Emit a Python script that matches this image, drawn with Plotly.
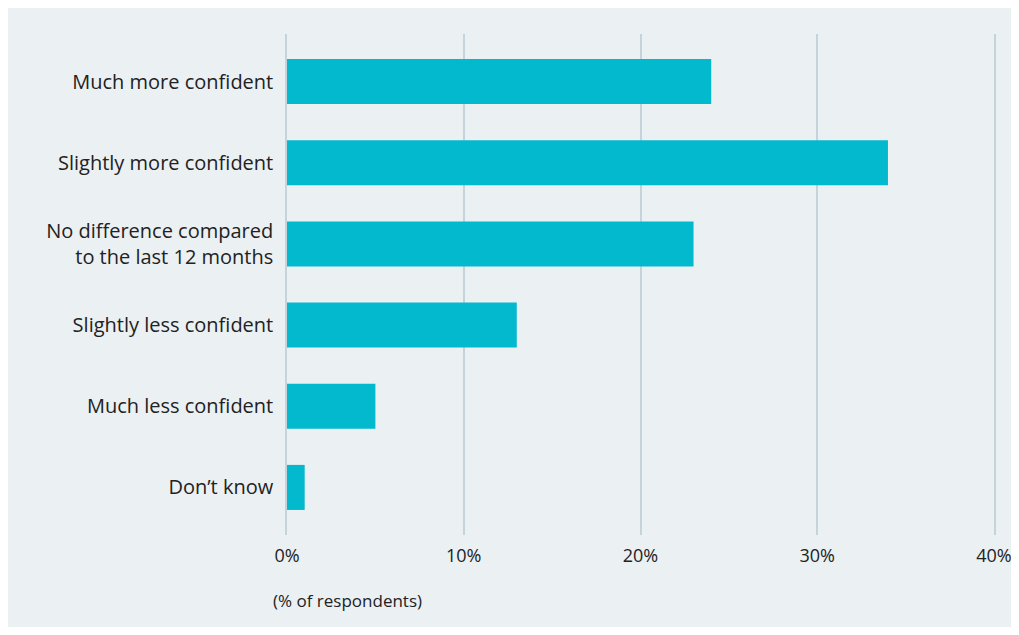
import plotly.graph_objects as go

categories = ["Much more confident", "Slightly more confident",
              "No difference compared<br>to the last 12 months",
              "Slightly less confident", "Much less confident", "Don’t know"]
values = [24, 34, 23, 13, 5, 1]
tick_vals = [0, 10, 20, 30, 40]
tick_text = ["0%", "10%", "20%", "30%", "40%"]

OFF = 8  # page body margin
W, H = 1019 - 2 * OFF, 635 - 2 * OFF
L, T = 287 - OFF, 34 - OFF
R = W - (994 - OFF)
B = H - (535 - OFF)
pw, ph = W - L - R, H - T - B

def px_x(p):
    return (p - OFF - L) / pw

def px_y(p):
    return 1 - (p - OFF - T) / ph

FONT = "Open Sans"
GRID = "#C5D3DB"
fig = go.Figure(go.Bar(
    y=categories, x=values, orientation="h",
    marker=dict(color="#02B9CE", line=dict(width=0)),
    hoverinfo="skip",
))

fig.update_layout(
    width=W, height=H,
    margin=dict(l=L, r=R, t=T, b=B, autoexpand=False),
    paper_bgcolor="#EBF0F3",
    plot_bgcolor="rgba(0,0,0,0)",
    font=dict(family=FONT, size=18, color="#222222"),
    bargap=0.445,
    showlegend=False,
    xaxis=dict(range=[0, 40], tickvals=tick_vals, ticktext=tick_text,
               showgrid=True, gridcolor=GRID, gridwidth=1.5,
               zeroline=False, showline=False, automargin=False,
               ticklabeloverflow="allow",
               ticks="outside", ticklen=4, tickcolor="rgba(0,0,0,0)",
               tickfont=dict(size=18, color="#222222")),
    yaxis=dict(autorange=False, range=[5.586, -0.586],
               showgrid=False, zeroline=False, automargin=False,
               showline=True, mirror=True, linecolor=GRID, linewidth=1.5,
               ticks="outside", ticklen=8, tickcolor="rgba(0,0,0,0)",
               tickfont=dict(size=20, color="#222222")),
    annotations=[dict(text="(% of respondents)", xref="paper", yref="paper",
                      x=px_x(271), y=px_y(600), xanchor="left", yanchor="middle",
                      showarrow=False, font=dict(family=FONT, size=17, color="#222222"))],
)

fig.write_html("out.html")
